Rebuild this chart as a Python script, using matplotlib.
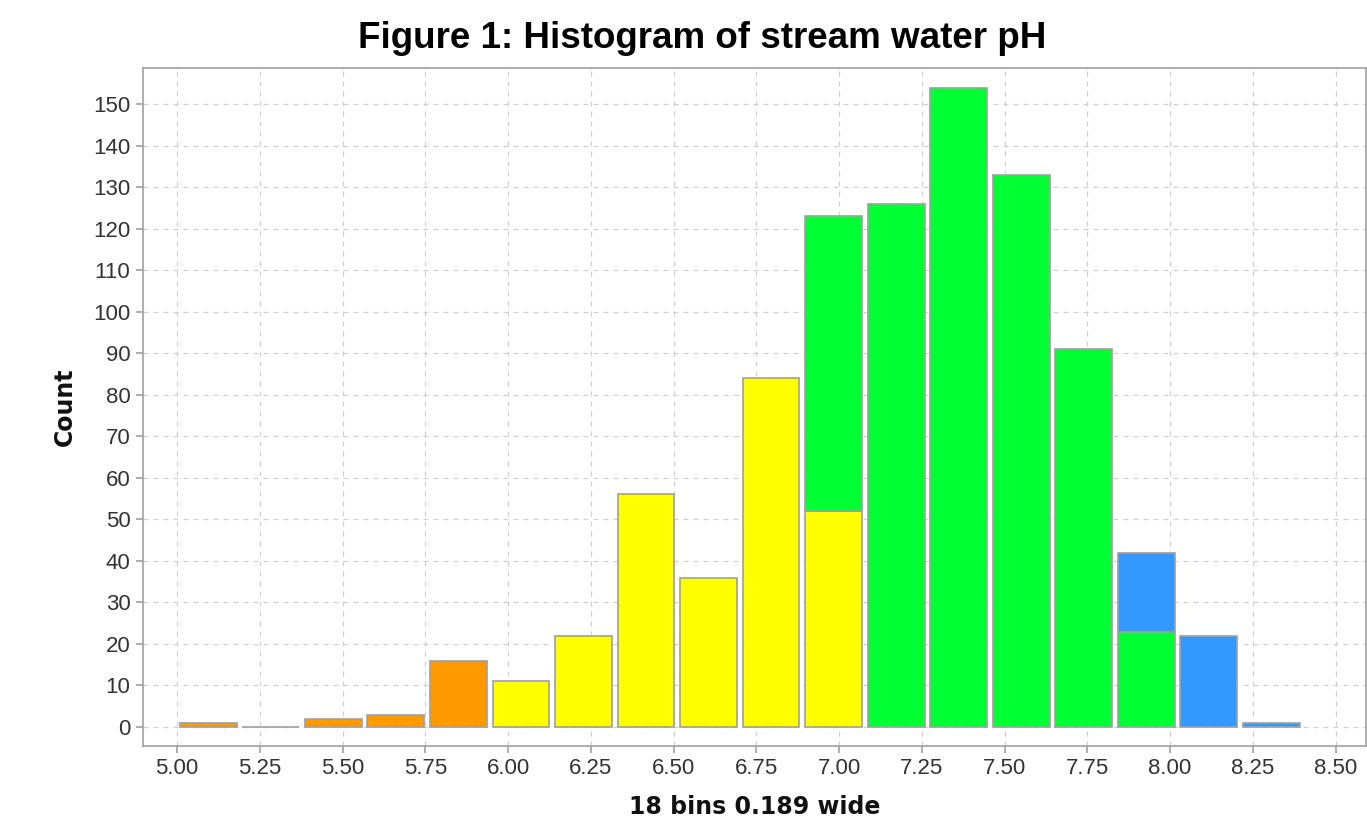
import matplotlib
matplotlib.use("Agg")
import matplotlib.pyplot as plt
import numpy as np

plt.rcParams['font.family'] = ['Liberation Sans', 'DejaVu Sans']

# Data
bin_start = 5.0
bin_width = 3.4 / 18
orange = [1, 0, 2, 3, 16, 0, 0, 0, 0, 0, 0, 0, 0, 0, 0, 0, 0, 0]
yellow = [0, 0, 0, 0, 0, 11, 22, 56, 36, 84, 52, 0, 0, 0, 0, 0, 0, 0]
green = [0, 0, 0, 0, 0, 0, 0, 0, 0, 0, 71, 126, 154, 133, 91, 23, 0, 0]
blue = [0, 0, 0, 0, 0, 0, 0, 0, 0, 0, 0, 0, 0, 0, 0, 19, 22, 1]
xticks = [5.00, 5.25, 5.50, 5.75, 6.00, 6.25, 6.50, 6.75, 7.00, 7.25, 7.50, 7.75, 8.00, 8.25, 8.50]
yticks = list(range(0, 151, 10))

title = "Figure 1: Histogram of stream water pH"
xlabel = "18 bins 0.189 wide"
ylabel = "Count"

fig = plt.figure(figsize=(13.67, 8.35), dpi=100)
ax = fig.add_axes([143 / 1367, 1 - 746 / 835, (1366 - 143) / 1367, (746 - 68) / 835])

n = len(orange)
centers = bin_start + bin_width * (np.arange(n) + 0.5)
w = bin_width * 0.91
edge = '#a0a0a0'

series = [(orange, '#ff9900'), (yellow, '#ffff00'), (green, '#00ff33'), (blue, '#3399ff')]
bottom = np.zeros(n)
for vals, col in series:
    vals = np.array(vals, dtype=float)
    mask = vals > 0
    if col == '#ff9900':
        mask = (vals > 0) | (np.arange(n) < 5)
    ax.bar(centers[mask], vals[mask], width=w, bottom=bottom[mask], color=col,
           edgecolor=edge, linewidth=1.2, zorder=3)
    bottom += vals

ax.set_xlim(4.897, 8.592)
ax.set_ylim(-4.57, 158.7)
ax.set_xticks(xticks)
ax.set_xticklabels([f"{t:.2f}" for t in xticks])
ax.set_yticks(yticks)

ax.grid(True, color='#d0d0d0', linestyle=(0, (4, 4)), linewidth=0.9, zorder=0)
for s in ax.spines.values():
    s.set_color('#a0a0a0')
    s.set_linewidth(1.2)

ax.tick_params(axis='both', colors='#a0a0a0', labelcolor='#333333', labelsize=16,
               length=5, width=1.2, direction='out', pad=4)

fig.text(702 / 1367, 1 - 39 / 835, title, fontsize=26.5, fontweight='bold',
         ha='center', va='center', color='black')
ax.set_xlabel(xlabel, fontsize=17, fontweight='bold', labelpad=11,
              family=['DejaVu Sans'], color='#111111')
ax.set_ylabel(ylabel, fontsize=17, fontweight='bold', labelpad=12,
              family=['DejaVu Sans'], color='#111111')

fig.savefig('out.png', dpi=100)
